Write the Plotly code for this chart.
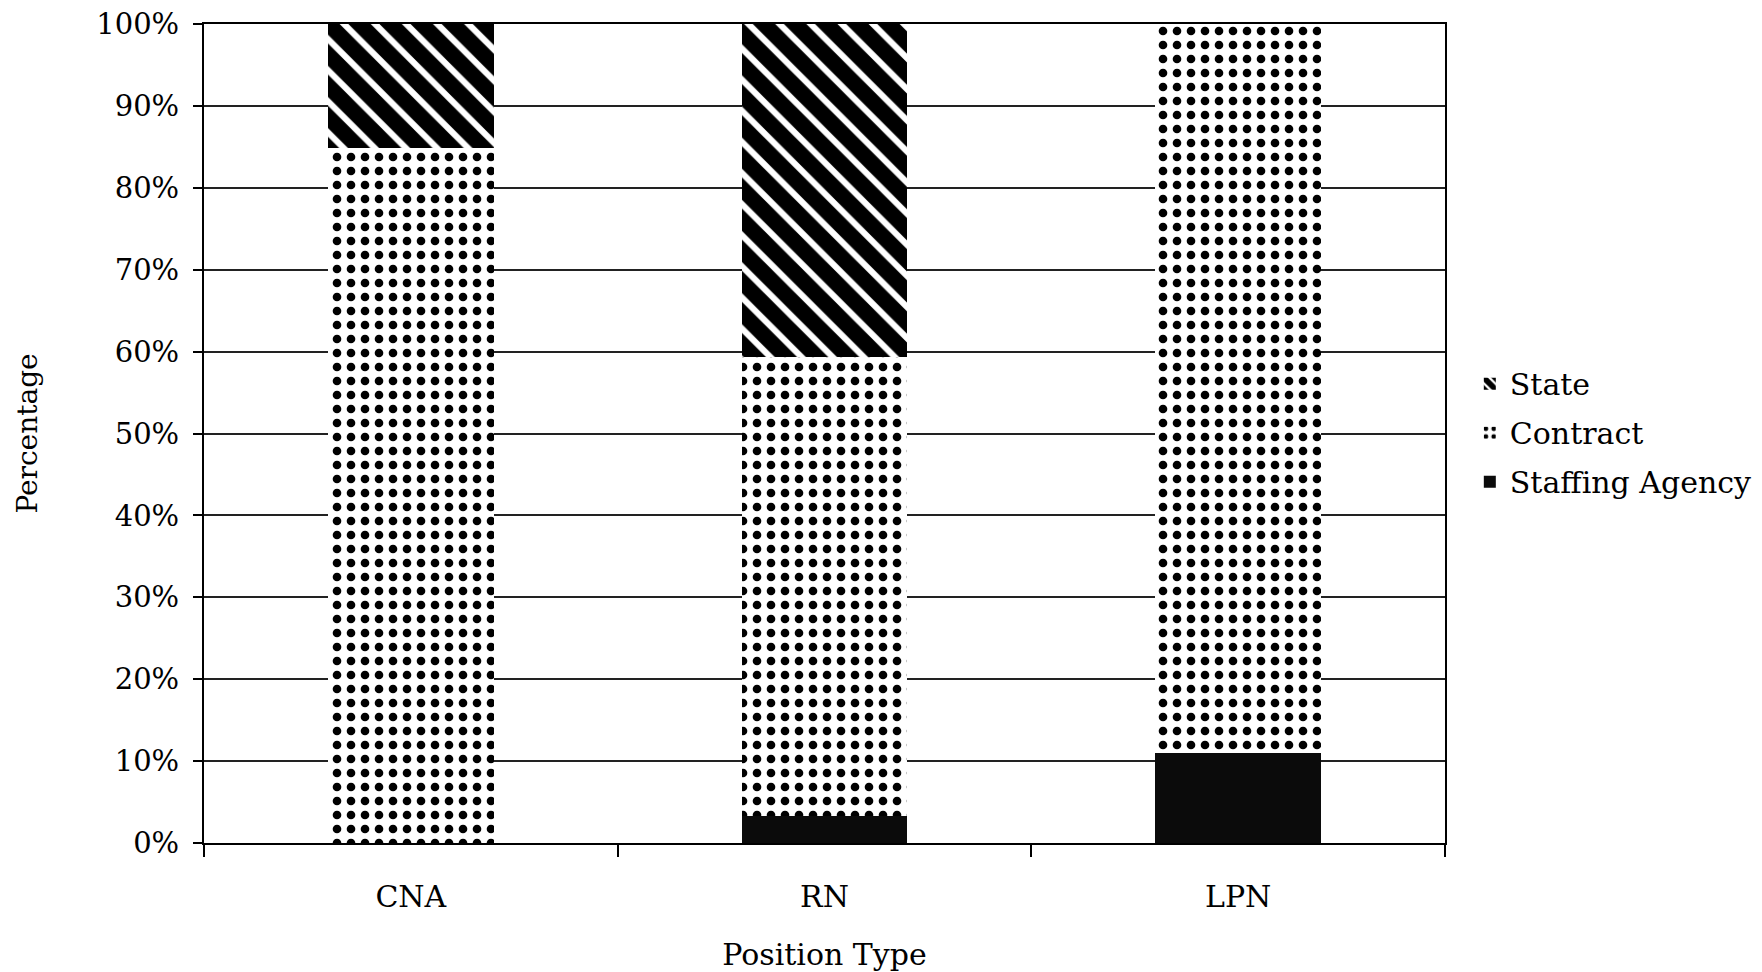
import plotly.graph_objects as go

categories = ["CNA", "RN", "LPN"]
staffing = [0.0, 3.3, 11.0]
contract = [84.9, 56.0, 89.0]
state = [15.1, 40.7, 0.0]
y_ticks = [0, 10, 20, 30, 40, 50, 60, 70, 80, 90, 100]
y_tick_labels = [f"{v}%" for v in y_ticks]

FONT = "DejaVu Serif"

fig = go.Figure()
fig.add_trace(go.Bar(
    name="Staffing Agency", x=categories, y=staffing,
    legendgroup="c", legendrank=3,
    marker=dict(color="#0b0b0b", line=dict(width=0)),
    width=0.4,
))
fig.add_trace(go.Bar(
    name="Contract", x=categories, y=contract,
    legendgroup="b", legendrank=2,
    marker=dict(color="white", line=dict(width=0),
                pattern=dict(shape=".", fgcolor="black", bgcolor="white",
                             size=14, solidity=0.3, fillmode="replace")),
    width=0.4,
))
fig.add_trace(go.Bar(
    name="State", x=categories, y=state,
    legendgroup="a", legendrank=1,
    marker=dict(color="white", line=dict(width=0),
                pattern=dict(shape="\\", fgcolor="black", bgcolor="white",
                             size=22, solidity=0.72, fillmode="replace")),
    width=0.4,
))

fig.update_layout(
    width=1762, height=972,
    margin=dict(l=204, r=317, t=24, b=129, autoexpand=False),
    paper_bgcolor="white", plot_bgcolor="white",
    barmode="stack", bargap=0.6,
    font=dict(family=FONT, size=28, color="black"),
    showlegend=True,
    legend=dict(
        x=1.02, xanchor="left", y=0.501, yanchor="middle",
        traceorder="grouped", font=dict(family=FONT, size=30),
        bgcolor="rgba(0,0,0,0)", itemwidth=30, tracegroupgap=7,
    ),
    xaxis=dict(
        title=dict(text="Position Type", font=dict(size=30), standoff=36),
        showline=True, linecolor="black", linewidth=2, mirror=True,
        ticks="outside", ticklen=12, tickwidth=2, tickcolor="black",
        tickson="boundaries", showgrid=False, automargin=False,
        tickfont=dict(size=30), ticklabelstandoff=26,
    ),
    yaxis=dict(
        title=dict(text="Percentage", font=dict(size=28), standoff=50),
        range=[0, 100], tickvals=y_ticks, ticktext=y_tick_labels,
        showline=True, linecolor="black", linewidth=2, mirror=True,
        ticks="outside", ticklen=9, tickwidth=1.5, tickcolor="black",
        showgrid=True, gridcolor="#222222", gridwidth=1.5, automargin=False,
        tickfont=dict(size=29), ticklabelstandoff=8,
        zeroline=False,
    ),
)

fig.write_html("out.html")
